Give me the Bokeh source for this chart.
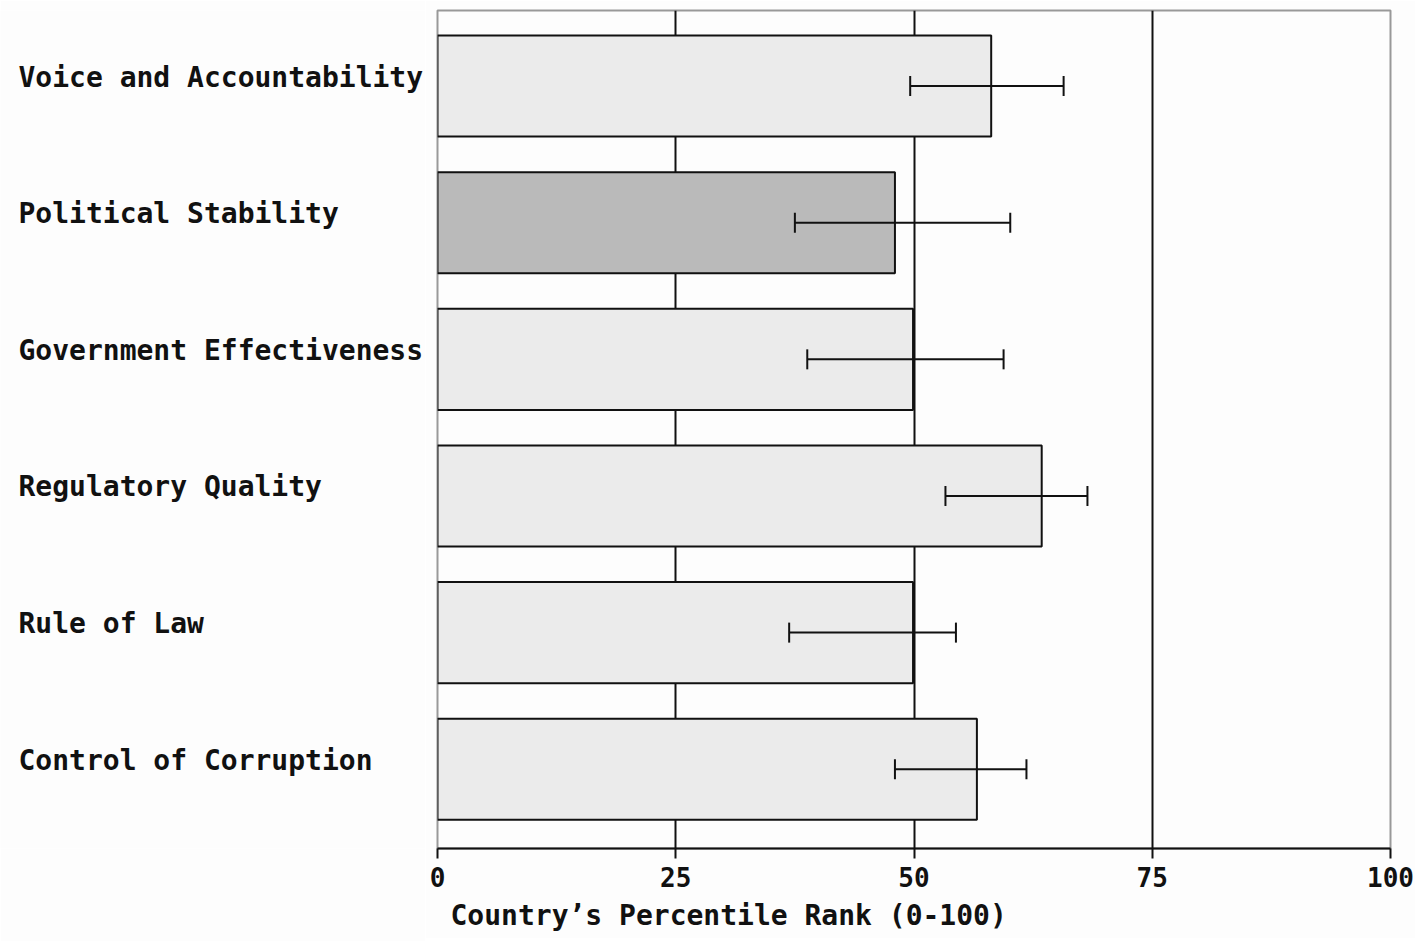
from bokeh.plotting import figure
from bokeh.layouts import row
from bokeh.models import (ColumnDataSource, Range1d, FixedTicker, Whisker, TeeHead, Title)
from bokeh.core.properties import value
from bokeh.embed import file_html
from bokeh.resources import INLINE

categories = ["Voice and Accountability", "Political Stability",
              "Government Effectiveness", "Regulatory Quality",
              "Rule of Law", "Control of Corruption"]
rank = [58.1, 48.0, 49.9, 63.4, 49.9, 56.6]
lower = [49.6, 37.5, 38.8, 53.3, 36.9, 48.0]
upper = [65.7, 60.1, 59.4, 68.2, 54.4, 61.8]
fills = ["#ebebeb", "#bababa", "#ebebeb", "#ebebeb", "#ebebeb", "#ebebeb"]
x_ticks = [0, 25, 50, 75, 100]
x_title = "Country’s Percentile Rank (0-100)"

FONT = "DejaVu Sans Mono"
BG = "#fdfdfd"
INK = "#111111"

pos = list(range(len(categories)))
src = ColumnDataSource(dict(y=pos, rank=rank, lower=lower, upper=upper,
                            fill=fills, name=categories))

yr = Range1d(5.58, -0.553)

# left panel holding the category labels
lab = figure(output_backend="svg", toolbar_location=None,
             frame_width=425, frame_height=838,
             min_border_left=0, min_border_right=0,
             min_border_top=10, min_border_bottom=93,
             x_range=Range1d(0, 425), y_range=yr,
             background_fill_color=BG, border_fill_color=BG)
lab.axis.visible = False
lab.grid.visible = False
lab.outline_line_color = None
lab.text(x=18, y="y", text="name", source=src,
         text_font=value(FONT), text_font_style="bold",
         text_font_size="28px", text_color=INK,
         text_baseline="alphabetic", text_align="left", y_offset=-9)

p = figure(output_backend="svg", toolbar_location=None,
           frame_width=953, frame_height=838,
           min_border_left=12, min_border_right=25,
           min_border_top=10, min_border_bottom=0,
           x_range=Range1d(0, 100), y_range=yr,
           background_fill_color=BG, border_fill_color=BG)

p.hbar(y="y", left=0, right="rank", height=0.74, source=src,
       fill_color="fill", line_color=INK, line_width=2)

p.add_layout(Whisker(source=src, base="y", lower="lower", upper="upper",
                     dimension="width", line_color=INK, line_width=2,
                     level="overlay",
                     upper_head=TeeHead(size=20, line_color=INK, line_width=2),
                     lower_head=TeeHead(size=20, line_color=INK, line_width=2)))

p.yaxis.visible = False
p.ygrid.visible = False
p.xgrid.ticker = FixedTicker(ticks=[25, 50, 75])
p.xgrid.grid_line_color = INK
p.xgrid.grid_line_width = 2
p.xgrid.grid_line_alpha = 1

p.xaxis.ticker = FixedTicker(ticks=x_ticks)
p.xaxis.axis_line_color = INK
p.xaxis.axis_line_width = 2
p.xaxis.major_tick_line_color = INK
p.xaxis.major_tick_line_width = 2
p.xaxis.major_tick_out = 10
p.xaxis.major_tick_in = 0
p.xaxis.minor_tick_line_color = None
p.xaxis.major_label_text_font = FONT
p.xaxis.major_label_text_font_style = "bold"
p.xaxis.major_label_text_font_size = "26px"
p.xaxis.major_label_text_color = INK
p.xaxis.major_label_standoff = 8

p.add_layout(Title(text=x_title, align="left", offset=13,
                   text_font=FONT, text_font_style="bold",
                   text_font_size="28px", text_color=INK,
                   standoff=14), "below")

p.outline_line_color = "#999999"
p.outline_line_width = 2

layout = row(lab, p, spacing=0)
open("out.html", "w").write(file_html(layout, INLINE))
